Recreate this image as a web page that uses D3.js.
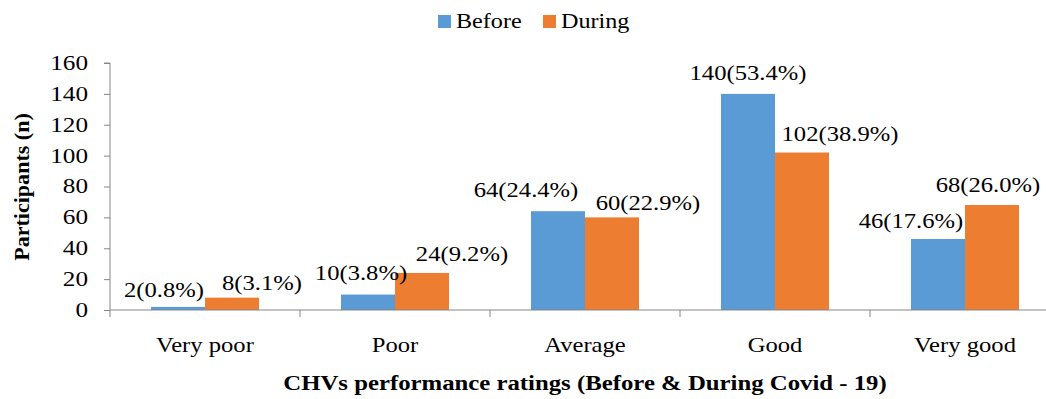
<!DOCTYPE html>
<html><head><meta charset="utf-8">
<script src="https://cdn.jsdelivr.net/npm/d3@7"></script>
<style>body{margin:0;background:#fff;}</style>
</head><body>
<svg id="c" width="1046" height="399"></svg>
<script>
const categories = ["Very poor", "Poor", "Average", "Good", "Very good"];
const seriesNames = ["Before", "During"];
const beforeValues = [2, 10, 64, 140, 46];
const duringValues = [8, 24, 60, 102, 68];
const beforePct = ["0.8", "3.8", "24.4", "53.4", "17.6"];
const duringPct = ["3.1", "9.2", "22.9", "38.9", "26.0"];
const yTicks = [0, 20, 40, 60, 80, 100, 120, 140, 160];

// layout tweaks for label placement (dx from bar centre, dy of baseline above bar top)
const labelShift = {
  Before: [[-14,-10],[-7,-15],[-32,-14],[0,-14],[-27,-11]],
  During: [[30,-8],[40,-12],[36,-7],[38,-12],[-4,-13]]
};
const colors = {Before: "#5B9BD5", During: "#ED7D31"};
const FONT = "'Times New Roman', 'Liberation Serif', 'DejaVu Serif', serif";
const SX = 1.15; // horizontal stretch of the reference text

function stext(g, x, yy, str, size, opts = {}) {
  const sx = opts.sx || SX;
  return g.append("text")
    .attr("x", x / sx).attr("y", yy)
    .attr("transform", `scale(${sx},1)`)
    .attr("text-anchor", opts.anchor || "middle")
    .style("font-family", FONT).style("font-size", size + "px")
    .style("font-weight", opts.bold ? "bold" : "normal")
    .style("fill", "#000")
    .text(str);
}

const svg = d3.select("#c");
const x0 = 110, x1 = 1060, yTop = 63, yBot = 310;
const y = d3.scaleLinear().domain([0,160]).range([yBot, yTop]);
const xc = d3.scaleBand().domain(categories).range([x0, x1]).paddingInner(0.4316).paddingOuter(0.2158);
const xs = d3.scaleBand().domain(seriesNames).range([0, xc.bandwidth()]);
const xcat = d3.scaleBand().domain(categories).range([x0, x1]);

const series = [
  {name: "Before", vals: beforeValues, pct: beforePct},
  {name: "During", vals: duringValues, pct: duringPct}
];

// bars
series.forEach(s => {
  svg.append("g").selectAll("rect").data(categories).join("rect")
    .attr("x", (c) => xc(c) + xs(s.name))
    .attr("y", (c,i) => y(s.vals[i]))
    .attr("width", xs.bandwidth())
    .attr("height", (c,i) => y(0) - y(s.vals[i]))
    .attr("fill", colors[s.name]);
});

// y axis
const yAxis = d3.axisLeft(y).tickValues(yTicks).tickSize(6).tickFormat("");
const gy = svg.append("g").attr("transform", `translate(${x0},0)`).call(yAxis);
gy.select(".domain").attr("stroke", "#868686").attr("d", `M-6,${yTop}H0V${yBot}`);
gy.selectAll(".tick line").attr("stroke", "#868686");
const gyl = svg.append("g");
yTicks.forEach(t => stext(gyl, 88, y(t) + 7, String(t), 21, {anchor: "end", sx: 1.2}));

// x axis line + boundary ticks
svg.append("line").attr("x1", x0).attr("x2", 1046).attr("y1", yBot).attr("y2", yBot).attr("stroke", "#868686");
const bounds = categories.map(c => xcat(c));
svg.append("g").selectAll("line").data(bounds).join("line")
  .attr("x1", d => d).attr("x2", d => d).attr("y1", yBot).attr("y2", yBot + 7).attr("stroke", "#868686");

// category labels
const gcl = svg.append("g");
categories.forEach(c => stext(gcl, xcat(c) + xcat.bandwidth()/2, 352, c, 22, {sx: 1.12}));

// data labels
const gdl = svg.append("g");
series.forEach(s => {
  categories.forEach((c, i) => {
    stext(gdl, xc(c) + xs(s.name) + xs.bandwidth()/2 + labelShift[s.name][i][0],
      y(s.vals[i]) + labelShift[s.name][i][1], `${s.vals[i]}(${s.pct[i]}%)`, 22, {sx: 1.12});
  });
});

// legend
const leg = svg.append("g");
const legX = {Before: 438, During: 543};
seriesNames.forEach(n => {
  leg.append("rect").attr("x", legX[n]).attr("y", 15).attr("width", 13).attr("height", 13).attr("fill", colors[n]);
  stext(leg, legX[n] + 18, 28, n, 21, {anchor: "start", sx: 1.15});
});

// axis titles
svg.append("text").attr("transform", "translate(29,187) rotate(-90) scale(1.05,1)").attr("text-anchor", "middle")
  .style("font-family", FONT).style("font-size", "21px").style("font-weight", "bold").text("Participants (n)");
stext(svg, (x0 + x1)/2, 390, "CHVs performance ratings (Before & During Covid - 19)", 21, {bold: true, sx: 1.18});
</script>
</body></html>
